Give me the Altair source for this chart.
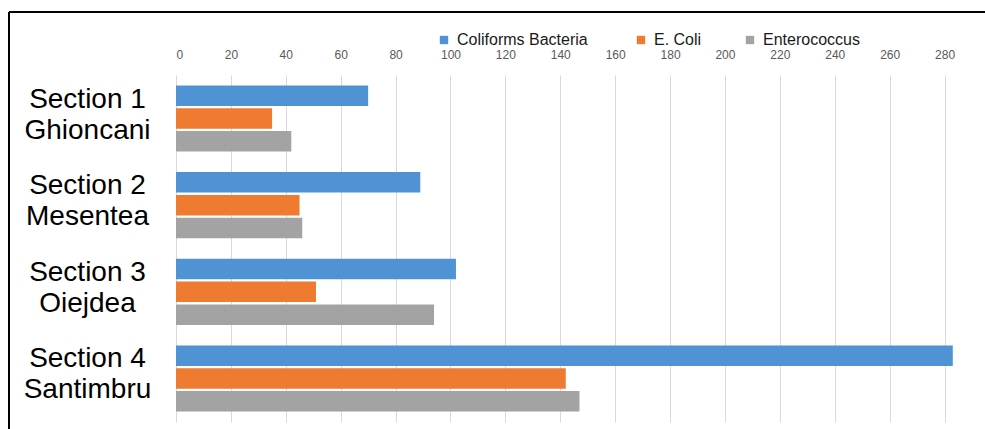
import altair as alt
import pandas as pd

sections = ["Section 1", "Section 2", "Section 3", "Section 4"]
places = ["Ghioncani", "Mesentea", "Oiejdea", "Santimbru"]
series = ["Coliforms  Bacteria", "E. Coli", "Enterococcus"]
coliforms = [70, 89, 102, 283]
ecoli = [35, 45, 51, 142]
enterococcus = [42, 46, 94, 147]
x_ticks = [0, 20, 40, 60, 80, 100, 120, 140, 160, 180, 200, 220, 240, 260, 280]
colors = ["#5093D5", "#EE7B30", "#A3A3A3"]

labels = [s + "|" + p for s, p in zip(sections, places)]
rows = []
for i, lab in enumerate(labels):
    for name, vals in zip(series, [coliforms, ecoli, enterococcus]):
        rows.append({"Section": lab, "Series": name, "Value": vals[i]})
df = pd.DataFrame(rows)

W, H = 796, 347
PL, PT = 176, 75

bars = alt.Chart(df).mark_bar().encode(
    y=alt.Y("Section:N", sort=labels,
            scale=alt.Scale(paddingInner=0.236, paddingOuter=0.12),
            axis=alt.Axis(title=None, labelExpr="split(datum.label, '|')",
                          labelAlign="center", labelPadding=89, labelFontSize=28,
                          labelFont="Liberation Sans", labelColor="#000000",
                          labelLineHeight=31, labelBaseline="middle",
                          labelOffset=-19,
                          ticks=False, domain=False, labelLimit=0, grid=False)),
    yOffset=alt.YOffset("Series:N", sort=series,
                        scale=alt.Scale(domain=series, paddingInner=0.1)),
    x=alt.X("Value:Q", scale=alt.Scale(domain=[0, 290], nice=False),
            axis=alt.Axis(orient="top", title=None, values=x_ticks,
                          labelFontSize=12, labelFont="Liberation Sans",
                          labelColor="#595959", labelPadding=14,
                          ticks=False, domain=False, grid=True,
                          gridColor="#D9D9D9", gridWidth=1)),
    color=alt.Color("Series:N", sort=series,
                    scale=alt.Scale(domain=series, range=colors),
                    legend=alt.Legend(title=None, orient="none", legendX=260,
                                      legendY=-43, direction="horizontal",
                                      symbolType="square", symbolSize=70,
                                      labelFontSize=16, labelFont="Liberation Sans",
                                      labelColor="#1a1a1a", columnPadding=40,
                                      labelOffset=5, symbolStrokeWidth=0)),
)

frame_df = pd.DataFrame({"a": [0]})
top_line = alt.Chart(frame_df).mark_rule(color="#000000", strokeWidth=2).encode(
    x=alt.value(9 - PL), x2=alt.value(985 - PL), y=alt.value(12 - PT))
left_line = alt.Chart(frame_df).mark_rule(color="#000000", strokeWidth=2).encode(
    x=alt.value(9 - PL), y=alt.value(12 - PT), y2=alt.value(429 - PT))

chart = alt.layer(bars, top_line, left_line).properties(
    width=W, height=H,
    autosize=alt.AutoSizeParams(type="none"),
    padding={"left": PL, "top": PT, "right": 985 - PL - W, "bottom": 429 - PT - H},
).configure_view(stroke=None)

chart.save("out.html", embed_options={"renderer": "svg", "actions": False})
